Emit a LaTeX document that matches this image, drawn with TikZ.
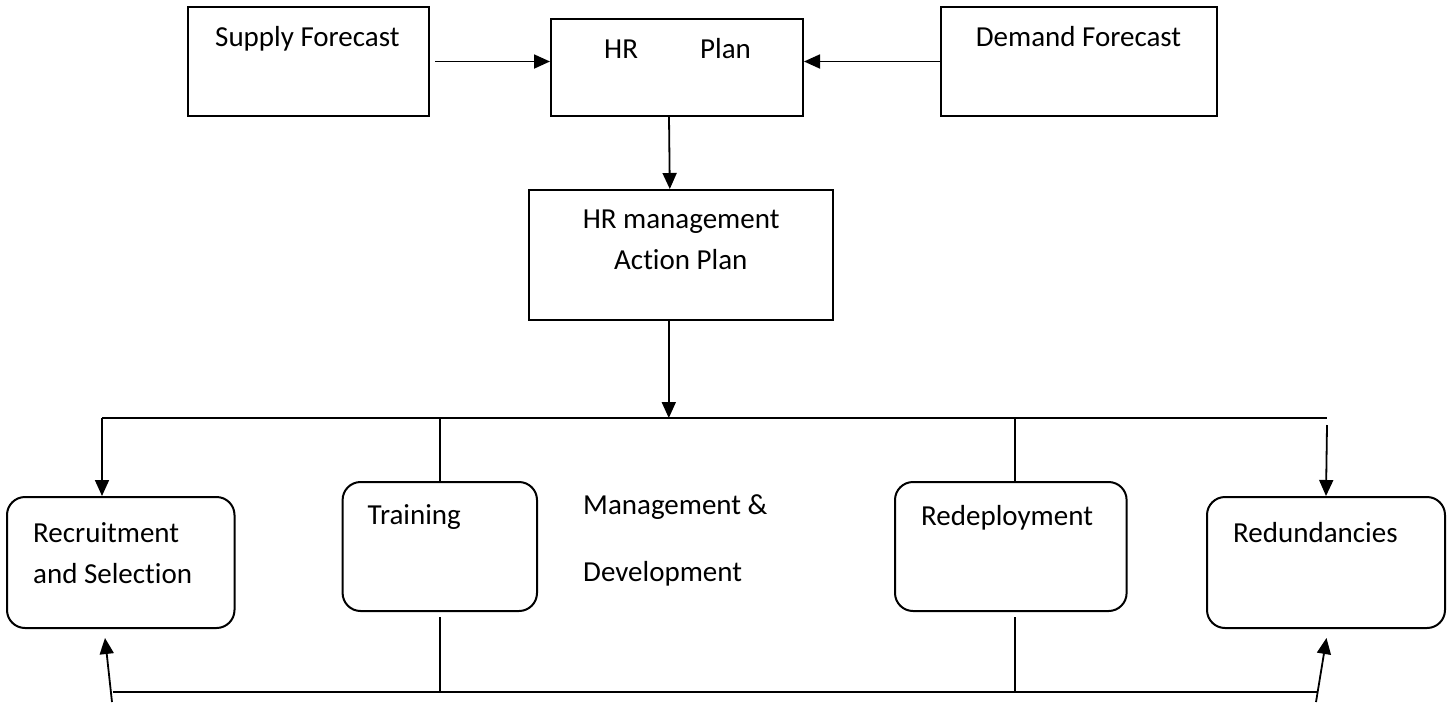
\documentclass[tikz,border=0pt]{standalone}
\usepackage{fontspec}
\setmainfont{Carlito}[Ligatures=NoCommon]
\usetikzlibrary{arrows.meta}

\begin{document}
\begin{tikzpicture}[x=1pt, y=-1pt,
        every node/.style={font=\fontsize{29}{35}\selectfont},
        planbox/.style={draw, line width=2pt, inner sep=0pt},
        actbox/.style={draw, line width=2pt, rounded corners=18pt, inner sep=0pt},
        boxtext/.style={anchor=base west, inner sep=0pt},
        link/.style={line width=1.8pt},
        arr/.style={line width=1.8pt, -{Triangle[length=16pt,width=14pt]}}]
        \useasboundingbox (0,0) rectangle (1448,702);

        % top row
        \node[planbox, minimum width=241pt, minimum height=109pt] (supply) at (308.5,61.5) {};
        \node[planbox, minimum width=252pt, minimum height=97pt] (hrplan) at (677,67.5) {};
        \node[planbox, minimum width=276.5pt, minimum height=109pt] (demand) at (1078.75,61.5) {};
        \node[planbox, minimum width=304.4pt, minimum height=130pt] (hraction) at (680.8,255) {};

        \node[boxtext] (supplytxt) at (215,46) {Supply Forecast};
        \node[boxtext] (hrtxt) at (604,58) {HR};
        \node[boxtext] (plantxt) at (700,58) {Plan};
        \node[boxtext] (demandtxt) at (975.6,46) {Demand Forecast};
        \node[boxtext] (hractiontxt) at (582.6,228) {HR management};
        \node[boxtext] (actionplantxt) at (614,269) {Action Plan};

        \draw[arr] ([xshift=5pt]supply.east) -- (hrplan.west |- supply.east);
        \draw[arr] (demand.west) -- (hrplan.east |- demand.west);
        \draw[arr] ([xshift=-8pt]hrplan.south) -- ([xshift=-11pt]hraction.north);

        % action boxes
        \node[actbox, minimum width=227.5pt, minimum height=131pt] (recruit) at (120.75,562.5) {};
        \node[actbox, minimum width=194.4pt, minimum height=129pt] (training) at (439.8,546.5) {};
        \node[actbox, minimum width=231.6pt, minimum height=129pt] (redeploy) at (1010.8,546.5) {};
        \node[actbox, minimum width=238pt, minimum height=131pt] (redund) at (1326,562.5) {};

        \node[boxtext] (recruittxt) at (33,542) {Recruitment};
        \node[boxtext] (selecttxt) at (33,583) {and Selection};
        \node[boxtext] (trainingtxt) at (367.5,524) {Training};
        \node[boxtext] (mgmttxt) at (583,514) {Management \&};
        \node[boxtext] (devtxt) at (583,581) {Development};
        \node[boxtext] (redeploytxt) at (921,525) {Redeployment};
        \node[boxtext] (redundtxt) at (1233,542) {Redundancies};

        % upper bus
        \coordinate (busL) at (102,418);
        \coordinate (busR) at (1327,418);
        \coordinate (redundin) at (1327,425);
        \draw[link] (busL) -- (busR);
        \draw[arr] ([xshift=-12pt]hraction.south) -- ([xshift=-12pt]hraction.south |- busL);
        \draw[arr] (busL) -- ([xshift=-18.75pt]recruit.north);
        \draw[link] (training.north |- busL) -- (training.north);
        \draw[link] ([xshift=4pt]redeploy.north |- busL) -- ([xshift=4pt]redeploy.north);
        \draw[arr] (redundin) -- (redund.north);

        % lower bus
        \coordinate (lowL) at (113,692);
        \coordinate (lowR) at (1317,692);
        \coordinate (recruitfrom) at (112,702);
        \coordinate (redundfrom) at (1316,702);
        \draw[link] (lowL) -- (lowR);
        \draw[link] ([yshift=-5pt]training.south) -- (training.south |- lowL);
        \draw[link] ([xshift=4pt,yshift=-5pt]redeploy.south) -- ([xshift=4pt]redeploy.south |- lowL);
        \draw[arr] (recruitfrom) -- ([xshift=-15.75pt,yshift=-9pt]recruit.south);
        \draw[arr] (redundfrom) -- ([xshift=0.5pt,yshift=-9pt]redund.south);
\end{tikzpicture}
\end{document}
